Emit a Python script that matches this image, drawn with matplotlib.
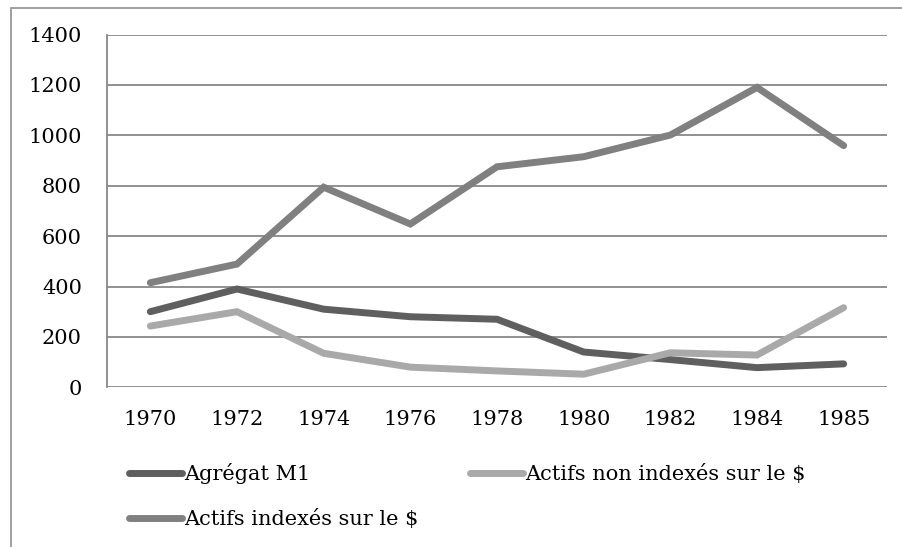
import matplotlib
matplotlib.use("Agg")
import matplotlib.pyplot as plt
from matplotlib.patches import Rectangle

years = ["1970", "1972", "1974", "1976", "1978", "1980", "1982", "1984", "1985"]
agregat_m1 = [300, 390, 310, 280, 270, 140, 110, 78, 93]
actifs_non_indexes = [243, 300, 135, 80, 65, 52, 137, 128, 316]
actifs_indexes = [415, 489, 794, 648, 875, 915, 1001, 1190, 959]
y_ticks = [0, 200, 400, 600, 800, 1000, 1200, 1400]

plt.rcParams['font.family'] = ['DejaVu Serif']
FS = 15

fig = plt.figure(figsize=(9.03, 5.47), dpi=100)
W, H = 903, 547
ax = fig.add_axes([107 / W, 1 - 387.3 / H, (887 - 107) / W, (387.3 - 34.5) / H])

x = list(range(len(years)))
l1, = ax.plot(x, agregat_m1, color="#5f5f5f", lw=5, solid_capstyle="round", solid_joinstyle="miter", label="Agrégat M1")
l2, = ax.plot(x, actifs_non_indexes, color="#a9a9a9", lw=5, solid_capstyle="round", solid_joinstyle="miter", label="Actifs non indexés sur le $")
l3, = ax.plot(x, actifs_indexes, color="#808080", lw=5, solid_capstyle="round", solid_joinstyle="miter", label="Actifs indexés sur le $")
l1.set_zorder(3); l2.set_zorder(3); l3.set_zorder(3)

ax.set_xlim(-0.5, len(years) - 0.5)
ax.set_ylim(0, 1400)
ax.set_yticks(y_ticks)
ax.set_yticklabels([str(v) for v in y_ticks], fontsize=FS)
ax.set_xticks(x)
ax.set_xticklabels(years, fontsize=FS)
ax.tick_params(axis='both', length=0, colors='black')
ax.tick_params(axis='y', pad=18)
ax.tick_params(axis='x', pad=16)
ax.yaxis.grid(True, color="#888888", lw=1.3)
ax.set_axisbelow(True)
for s in ["top", "right", "bottom"]:
    ax.spines[s].set_visible(False)
ax.spines["left"].set_color("#888888")
ax.spines["left"].set_linewidth(1.3)

# outer chart border (partially cropped)
fig.patches.append(Rectangle((11.5 / W, -0.1), 1.2, 1 - 7.5 / H + 0.1, transform=fig.transFigure,
                             fill=False, edgecolor="#999999", lw=1.3))

leg = fig.legend(handles=[l1, l3, l2], loc="upper left", ncol=2,
                 bbox_to_anchor=(129 / W, 1 - 463 / H), frameon=False, fontsize=FS,
                 handlelength=2.55, handletextpad=0.1, columnspacing=2.45,
                 labelspacing=1.2, borderpad=0, borderaxespad=0)

fig.savefig("out.png", dpi=100)
